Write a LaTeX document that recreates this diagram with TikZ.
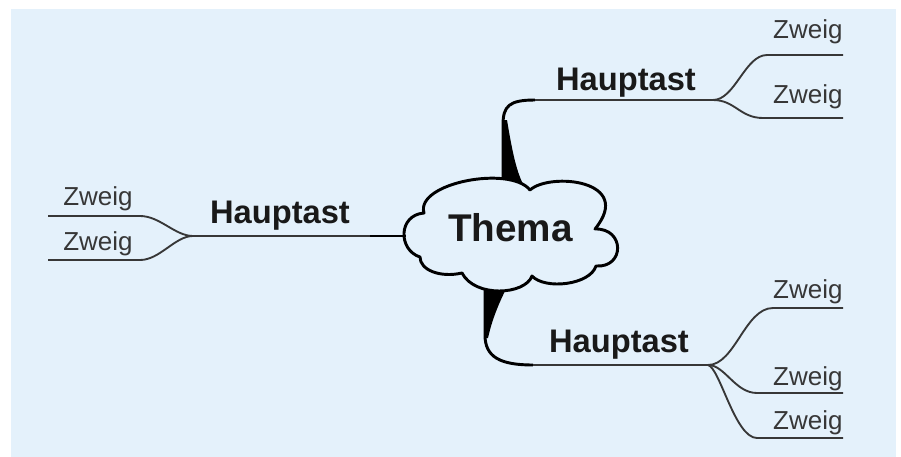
\documentclass[tikz,border=0pt]{standalone}
\usepackage{fontspec}
\setmainfont{Liberation Sans}
\definecolor{bgblue}{RGB}{228,241,251}
\definecolor{inkgray}{RGB}{55,55,55}
\tikzset{every picture/.style={line width=0.75pt}}
\tikzset{
  zweigtext/.style={inner sep=0pt, text=inkgray, font=\fontsize{19.5}{21}\selectfont},
  asttext/.style={inner sep=0pt, text=black!90, font=\fontsize{24.5}{26}\selectfont\bfseries},
  thematext/.style={inner sep=0pt, text=black!90, font=\fontsize{29}{31}\selectfont\bfseries},
  astline/.style={draw=inkgray, line width=1.9pt},
  zweigline/.style={draw=inkgray, line width=1.4pt},
  stemline/.style={draw=black, line width=2.2pt},
  cloudline/.style={draw=black, fill=bgblue, line width=2.2pt, line join=round},
}

\begin{document}
\begin{tikzpicture}[x=0.75pt,y=0.75pt,yscale=-1,xscale=1]
  \useasboundingbox (0,0) rectangle (901,457);
  %Background
  \fill [bgblue] (11,9) rectangle (896,458);

  %Fork points and line ends
  \coordinate (trfork) at (713,100);
  \coordinate (trbend) at (535,100);
  \coordinate (brfork) at (708,365);
  \coordinate (brbend) at (533,365);
  \coordinate (lfork) at (193,236);
  \coordinate (lend) at (370,236);
  \coordinate (lcloud) at (406,236);

  %Stems
  \fill (503,120) -- (507,120) .. controls (512,150) and (516,170) .. (523,184) -- (503,184) -- cycle;
  \draw [stemline] (trbend) .. controls (509,100) and (503,106) .. (503,125) -- (503,180);
  \fill (485,286) -- (507,287) .. controls (498,305) and (492,320) .. (488,338) -- (485,338) -- cycle;
  \draw [stemline] (485,288) -- (485,335) .. controls (485,357) and (500,365) .. (brbend);
  \fill (366,236) -- (lcloud) ++(0,-3.5) -- ++(0,7) -- cycle;

  %Cloud
  \draw [cloudline] (424,213) .. controls (415,183) and (510,165) .. (530,190)
    .. controls (550,172) and (635,180) .. (595,229)
    .. controls (625,228) and (625,268) .. (596,266)
    .. controls (590,285) and (545,290) .. (532,276)
    .. controls (525,295) and (475,298) .. (462,273)
    .. controls (440,278) and (420,270) .. (420,257)
    .. controls (398,250) and (398,215) .. (424,213) -- cycle;

  %Main branches
  \draw [astline] (trfork) -- (trbend);
  \draw [astline] (brfork) -- (brbend);
  \draw [astline] (lfork) -- (lend);
  \draw [stemline, line width=1.6pt] (lend) -- (lcloud);

  %Twigs top right
  \draw [zweigline] (trfork) .. controls (735,100) and (745,55) .. (767,55) -- (843,55);
  \draw [zweigline] (trfork) .. controls (735,100) and (740,118) .. (763,118) -- (843,118);
  %Twigs bottom right
  \draw [zweigline] (brfork) .. controls (735,365) and (745,308) .. (773,308) -- (843,308);
  \draw [zweigline] (brfork) .. controls (725,365) and (735,393) .. (757,393) -- (843,393);
  \draw [zweigline] (brfork) .. controls (720,368) and (735,438) .. (757,438) -- (843,438);
  %Twigs left
  \draw [zweigline] (lfork) .. controls (175,236) and (160,216) .. (140,216) -- (48,216);
  \draw [zweigline] (lfork) .. controls (175,236) and (160,260) .. (140,260) -- (48,260);

  % Text Node
  \node [thematext, anchor=base] (thema) at (510.5,241) {Thema};
  % Text Node
  \node [asttext, anchor=base] (asttr) at (626,90) {Hauptast};
  % Text Node
  \node [asttext, anchor=base] (astbr) at (619,352) {Hauptast};
  % Text Node
  \node [asttext, anchor=base] (astl) at (280,223) {Hauptast};
  % Text Node
  \node [zweigtext, anchor=base east] (ztr1) at (843,38) {Zweig};
  % Text Node
  \node [zweigtext, anchor=base east] (ztr2) at (843,103) {Zweig};
  % Text Node
  \node [zweigtext, anchor=base east] (zbr1) at (843,298) {Zweig};
  % Text Node
  \node [zweigtext, anchor=base east] (zbr2) at (843,385) {Zweig};
  % Text Node
  \node [zweigtext, anchor=base east] (zbr3) at (843,429) {Zweig};
  % Text Node
  \node [zweigtext, anchor=base] (zl1) at (98,205) {Zweig};
  % Text Node
  \node [zweigtext, anchor=base] (zl2) at (98,250) {Zweig};

\end{tikzpicture}
\end{document}
